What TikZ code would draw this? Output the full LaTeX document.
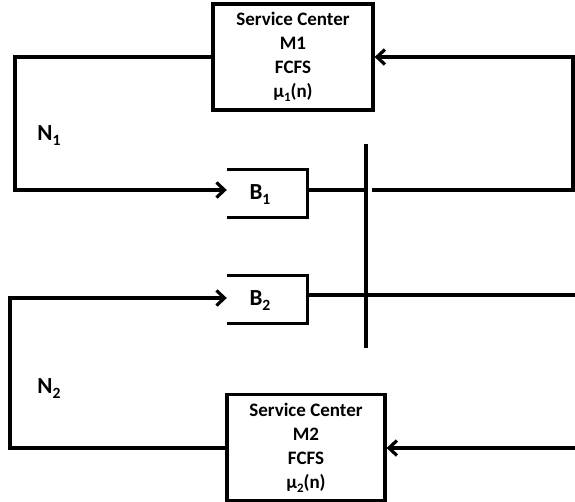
\documentclass[tikz,border=0pt]{standalone}
\usepackage{fontspec}
\setmainfont{Carlito}
\usetikzlibrary{arrows.meta}
\newcommand{\lowidx}[1]{\raisebox{-0.45ex}{\scalebox{0.68}{#1}}}
\tikzset{
  wire/.style={line width=3.2pt, line cap=butt, line join=miter},
  into/.style={wire, -{Straight Barb[length=8pt,width=15pt,line width=3.2pt]}},
  center/.style={draw, line width=3.2pt, minimum width=160pt, minimum height=106pt,
    align=center, font=\bfseries\fontsize{19}{24}\selectfont, inner sep=0pt},
  buf/.style={minimum width=80pt, minimum height=47pt, inner sep=0pt},
  class/.style={font=\bfseries\fontsize{23}{24}\selectfont}
}
\begin{document}
\begin{tikzpicture}[x=1pt,y=-1pt]
  \useasboundingbox (0,0) rectangle (575,501);
  \fill[white] (0,0) rectangle (575,501);

  % service centres
  \node[center] (M1) at (293,57) {Service Center\\M1\\FCFS\\\textmu\lowidx{1}(n)};
  \node[center, minimum width=158pt] (M2) at (306,447.5) {Service Center\\M2\\FCFS\\\textmu\lowidx{2}(n)};

  % buffers, open on the left
  \node[buf] (B1) at (267,193.5) {};
  \node[buf] (B2) at (267,299.5) {};
  \node[class] at (260,195) {B\lowidx{1}};
  \node[class] at (260,301) {B\lowidx{2}};
  \draw[wire] (B1.north west) -- (B1.north east) -- (B1.south east) -- (B1.south west);
  \draw[wire] (B2.north west) -- (B2.north east) -- (B2.south east) -- (B2.south west);

  % synchronisation bar
  \coordinate (bartop) at (366,144);
  \coordinate (barbot) at (366,348);
  \draw[wire] (bartop) -- (barbot);

  % class labels
  \node[class] (N1) at (49,136) {N\lowidx{1}};
  \node[class] (N2) at (49,389) {N\lowidx{2}};

  % loop of class 1
  \coordinate (a1) at (15,57);
  \coordinate (a2) at (15,190);
  \draw[into] (M1.west |- 0,57) -- (a1) -- (a2) -- (B1.west |- 0,190);
  \draw[wire] (B1.east |- 0,190) -- (bartop |- 0,190);
  \coordinate (r1) at (573,190);
  \coordinate (r2) at (573,57);
  \draw[into] (372,190) -- (r1) -- (r2) -- (M1.east |- 0,57);

  % loop of class 2
  \draw[wire] (B2.east |- 0,295) -- (575,295);
  \coordinate (c1) at (10,298);
  \coordinate (c2) at (10,448);
  \draw[into] (M2.west |- 0,448) -- (c2) -- (c1) -- (B2.west |- 0,298);
  \coordinate (in2) at (575,448);
  \draw[into] (in2) -- (M2.east |- 0,448);
\end{tikzpicture}
\end{document}
